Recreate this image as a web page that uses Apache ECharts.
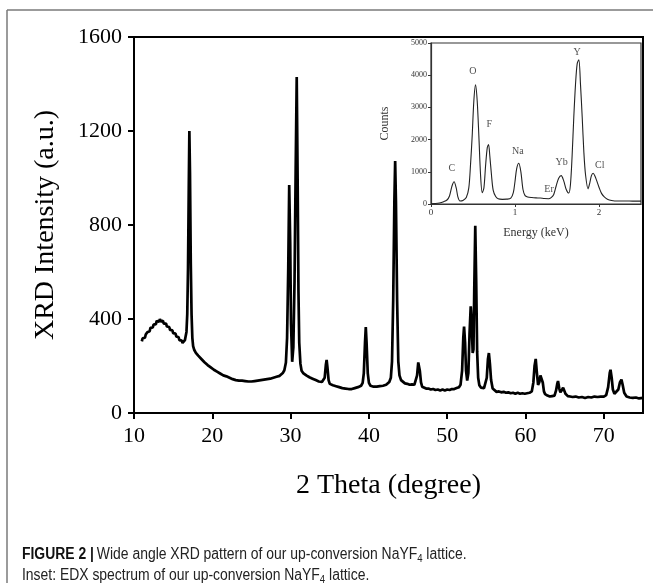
<!DOCTYPE html>
<html>
<head>
<meta charset="utf-8">
<script src="https://cdn.jsdelivr.net/npm/echarts@6/dist/echarts.min.js"></script>
<style>
html,body{margin:0;padding:0;background:#fff;}
#chart{width:653px;height:583px;}
</style>
</head>
<body>
<div id="chart"></div>
<script>
// ---- XRD main pattern (2 theta in degree, intensity a.u.) ----
const xrdTheta = [
11.0,11.1,11.2,11.3,11.4,11.5,11.6,11.7,11.8,11.9,12.0,12.1,12.2,12.3,12.4,12.5,12.6,12.7,12.8,12.9,
13.0,13.1,13.2,13.3,13.4,13.5,13.6,13.7,13.8,13.9,14.0,14.1,14.2,14.3,14.4,14.5,14.6,14.7,14.8,14.9,
15.0,15.1,15.2,15.3,15.4,15.5,15.6,15.7,15.8,15.9,16.0,16.1,16.2,16.3,16.4,16.5,16.6,16.7,16.8,16.9,
17.0,17.07,17.15,17.25,17.35,17.45,17.55,17.7,17.8,17.9,18.0,18.2,18.4,18.6,18.8,19.0,19.2,19.4,19.6,19.8,
20.0,20.2,20.4,20.6,20.8,21.0,21.2,21.4,21.6,21.8,22.0,22.2,22.4,22.6,22.8,23.0,23.2,23.4,23.6,23.8,
24.0,24.2,24.4,24.6,24.8,25.0,25.2,25.4,25.6,25.8,26.0,26.2,26.4,26.6,26.8,27.0,27.2,27.4,27.6,27.8,
28.0,28.2,28.4,28.6,28.8,29.0,29.2,29.4,29.55,29.7,29.82,29.95,30.05,30.2,30.35,30.5,30.65,30.78,30.9,31.0,
31.1,31.25,31.4,31.6,31.8,32.0,32.2,32.4,32.6,32.8,33.0,33.2,33.4,33.6,33.8,34.0,34.2,34.35,34.5,34.6,
34.7,34.85,35.0,35.2,35.4,35.6,35.8,36.0,36.2,36.4,36.6,36.8,37.0,37.2,37.4,37.6,37.8,38.0,38.2,38.4,
38.6,38.8,39.0,39.2,39.35,39.5,39.6,39.7,39.85,40.0,40.2,40.4,40.6,40.8,41.0,41.2,41.4,41.6,41.8,42.0,
42.2,42.4,42.6,42.8,42.95,43.1,43.25,43.35,43.45,43.6,43.75,43.9,44.1,44.3,44.6,44.9,45.2,45.5,45.8,46.0,
46.15,46.3,46.4,46.5,46.65,46.8,47.0,47.3,47.6,47.9,48.2,48.5,48.8,49.1,49.4,49.7,50.0,50.3,50.6,50.9,
51.2,51.5,51.7,51.9,52.05,52.15,52.28,52.4,52.55,52.7,52.85,53.0,53.1,53.25,53.35,53.45,53.58,53.7,53.82,53.95,
54.1,54.3,54.5,54.7,54.9,55.05,55.2,55.32,55.45,55.6,55.8,56.0,56.3,56.6,56.9,57.2,57.5,57.8,58.1,58.4,
58.7,59.0,59.3,59.6,59.9,60.2,60.5,60.8,61.0,61.15,61.3,61.45,61.6,61.75,61.9,62.05,62.2,62.35,62.5,62.8,
63.1,63.4,63.7,63.9,64.05,64.15,64.3,64.45,64.65,64.8,64.95,65.1,65.4,65.7,66.0,66.4,66.8,67.2,67.6,68.0,
68.4,68.8,69.2,69.6,70.0,70.3,70.55,70.75,70.85,71.0,71.15,71.35,71.6,71.85,72.05,72.25,72.4,72.6,72.9,73.3,
73.7,74.1,74.5,75.0
];
const xrdIntensity = [
305,318,312,326,320,334,330,344,340,352,348,362,356,368,364,376,370,384,378,392,
386,398,388,400,390,396,386,392,380,386,374,380,368,372,360,366,354,358,346,352,
340,344,334,338,326,330,318,322,310,314,304,308,298,304,300,310,318,345,420,620,
980,1200,1020,640,420,320,285,268,262,256,252,244,238,230,224,216,212,204,200,194,
192,184,182,176,174,168,168,160,162,156,156,150,150,144,146,140,140,138,134,138,
132,136,130,134,128,134,130,136,132,138,134,140,136,142,138,144,140,146,144,150,
148,154,152,158,162,170,182,215,320,620,970,720,380,218,280,560,1050,1430,980,520,
300,210,180,170,164,160,154,152,146,146,140,140,134,134,130,132,134,150,205,226,
195,140,124,122,118,120,114,116,110,112,106,108,104,106,102,106,102,106,106,110,
110,114,116,128,170,300,366,300,170,128,116,110,112,108,112,110,114,112,116,116,
120,122,132,150,220,480,900,1072,900,480,220,160,140,132,126,124,120,122,120,128,
160,215,218,180,130,112,108,104,104,100,102,98,100,96,100,96,100,98,102,102,
106,110,120,180,320,368,300,180,138,170,340,454,400,255,270,520,797,560,260,150,
118,108,104,106,110,150,230,255,210,140,104,96,90,92,88,90,86,88,84,86,
82,86,82,84,82,84,86,92,130,200,230,170,120,130,160,168,130,92,80,74,
70,72,74,96,125,136,105,88,98,108,100,82,72,70,68,70,66,68,64,68,
66,70,68,70,70,76,110,170,184,150,100,82,84,100,130,142,120,86,70,66,
64,66,62,64
];
const xrdXTicks = [10,20,30,40,50,60,70];
const xrdYTicks = [0,400,800,1200,1600];

// ---- EDX inset spectrum (energy keV, counts) ----
const edxEnergy = [
0.00,0.05,0.10,0.15,0.19,0.22,0.25,0.275,0.30,0.32,0.345,0.38,0.42,0.45,0.47,0.49,0.51,0.53,0.55,0.57,
0.59,0.61,0.63,0.65,0.67,0.685,0.70,0.72,0.74,0.77,0.80,0.85,0.90,0.95,0.98,1.00,1.02,1.045,1.07,1.095,
1.12,1.15,1.20,1.25,1.30,1.35,1.40,1.43,1.46,1.49,1.52,1.55,1.58,1.61,1.64,1.66,1.68,1.70,1.72,1.74,
1.76,1.78,1.80,1.82,1.84,1.87,1.89,1.91,1.93,1.95,1.97,2.00,2.03,2.06,2.10,2.15,2.22,2.30,2.40,2.50
];
const edxCounts = [
10,15,30,70,124,250,560,690,500,220,95,110,200,500,1200,2100,3200,3700,3200,2100,
900,350,500,1200,1750,1850,1500,900,430,230,160,145,150,180,350,700,1100,1266,1000,450,
260,220,200,190,186,170,165,200,290,560,800,880,720,450,340,600,1500,2700,3700,4350,
4480,3700,2700,1600,900,470,650,880,955,880,740,520,330,228,150,110,93,95,90,88
];
const edxXTicks = [0,1,2];
const edxYTicks = [0,1000,2000,3000,4000,5000];
const edxPeakNames = ['C','O','F','Na','Er','Yb','Y','Cl'];
const edxPeakEnergy = [0.247,0.498,0.693,1.035,1.405,1.555,1.74,2.01];
const edxPeakCounts = [1120,4107,2458,1627,460,1307,4698,1200];

const serif = 'Liberation Serif, Times New Roman, serif';
const sans = 'Liberation Sans, Arial, sans-serif';
const plain = v => String(v);
const xrdData = xrdTheta.map((t,i)=>[t, xrdIntensity[i]]);
const edxData = edxEnergy.map((e,i)=>[e, edxCounts[i]]);
const peakData = edxPeakNames.map((n,i)=>({name:n, value:[edxPeakEnergy[i], edxPeakCounts[i]]}));

const chart = echarts.init(document.getElementById('chart'), null, {renderer:'canvas'});
chart.setOption({
  animation:false,
  backgroundColor:'#fff',
  grid:[
    {left:134, right:10, top:37, bottom:170, show:true, borderColor:'#000', borderWidth:2},
    {left:431, right:12, top:43, bottom:379, show:true, borderColor:'#333', borderWidth:1.2, backgroundColor:'#fff'}
  ],
  xAxis:[
    {type:'value', gridIndex:0, min:10, max:75, interval:10,
     axisLine:{lineStyle:{color:'#000', width:2}},
     axisTick:{show:true, inside:false, length:6, lineStyle:{width:2, color:'#000'}, customValues:xrdXTicks},
     axisLabel:{fontFamily:serif, fontSize:22, color:'#000', margin:12, customValues:xrdXTicks, formatter:plain},
     splitLine:{show:false},
     name:'2 Theta (degree)', nameLocation:'middle', nameGap:59,
     nameTextStyle:{fontFamily:serif, fontSize:28, color:'#000'}},
    {type:'value', gridIndex:1, min:0, max:2.5,
     axisLine:{lineStyle:{color:'#333', width:1.2}},
     axisTick:{show:true, length:3, lineStyle:{color:'#333'}, customValues:edxXTicks},
     axisLabel:{fontFamily:serif, fontSize:9, color:'#333', margin:4, customValues:edxXTicks, formatter:plain},
     splitLine:{show:false},
     name:'Energy (keV)', nameLocation:'middle', nameGap:23,
     nameTextStyle:{fontFamily:serif, fontSize:12, color:'#333'}}
  ],
  yAxis:[
    {type:'value', gridIndex:0, min:0, max:1600, interval:400,
     axisLine:{lineStyle:{color:'#000', width:2}},
     axisTick:{show:true, length:6, lineStyle:{width:2, color:'#000'}, customValues:xrdYTicks},
     axisLabel:{fontFamily:serif, fontSize:22, color:'#000', margin:12, customValues:xrdYTicks, formatter:plain},
     splitLine:{show:false},
     name:'XRD Intensity (a.u.)', nameLocation:'middle', nameGap:74,
     nameTextStyle:{fontFamily:serif, fontSize:28, color:'#000'}},
    {type:'value', gridIndex:1, min:0, max:5000, interval:1000,
     axisLine:{lineStyle:{color:'#333', width:1.2}},
     axisTick:{show:true, length:3, lineStyle:{color:'#333'}, customValues:edxYTicks},
     axisLabel:{fontFamily:serif, fontSize:8, color:'#333', margin:4, customValues:edxYTicks, formatter:plain},
     splitLine:{show:false},
     name:'Counts', nameLocation:'middle', nameGap:40,
     nameTextStyle:{fontFamily:serif, fontSize:12, color:'#333'}}
  ],
  series:[
    {type:'line', xAxisIndex:0, yAxisIndex:0, data:xrdData, symbol:'none',
     lineStyle:{color:'#000', width:2.7}, z:3},
    {type:'line', xAxisIndex:1, yAxisIndex:1, data:edxData, symbol:'none', smooth:0.3,
     lineStyle:{color:'#222', width:1.1}, z:6},
    {type:'scatter', xAxisIndex:1, yAxisIndex:1, data:peakData, symbolSize:0, z:7,
     label:{show:true, position:'inside', formatter:'{b}', fontFamily:serif, fontSize:10, color:'#222'}}
  ],
  graphic:[
    {type:'line', shape:{x1:7, y1:10, x2:653, y2:10}, style:{stroke:'#7a7a7a', lineWidth:1.5}},
    {type:'line', shape:{x1:7, y1:10, x2:7, y2:583}, style:{stroke:'#7a7a7a', lineWidth:1.5}},
    {type:'text', x:22, y:545, scaleX:0.87, style:{
      text:'{b|FIGURE 2 |} {n|Wide angle XRD pattern of our up-conversion NaYF}{s|4}{n| lattice.}',
      rich:{
        b:{fontFamily:sans, fontWeight:'bold', fontSize:16, fill:'#111'},
        n:{fontFamily:sans, fontSize:16, fill:'#222'},
        s:{fontFamily:sans, fontSize:11, fill:'#222', padding:[8,0,0,0]}
      }}},
    {type:'text', x:22, y:566, scaleX:0.87, style:{
      text:'{n|Inset: EDX spectrum of our up-conversion NaYF}{s|4}{n| lattice.}',
      rich:{
        n:{fontFamily:sans, fontSize:16, fill:'#222'},
        s:{fontFamily:sans, fontSize:11, fill:'#222', padding:[8,0,0,0]}
      }}}
  ]
});
</script>
</body>
</html>
